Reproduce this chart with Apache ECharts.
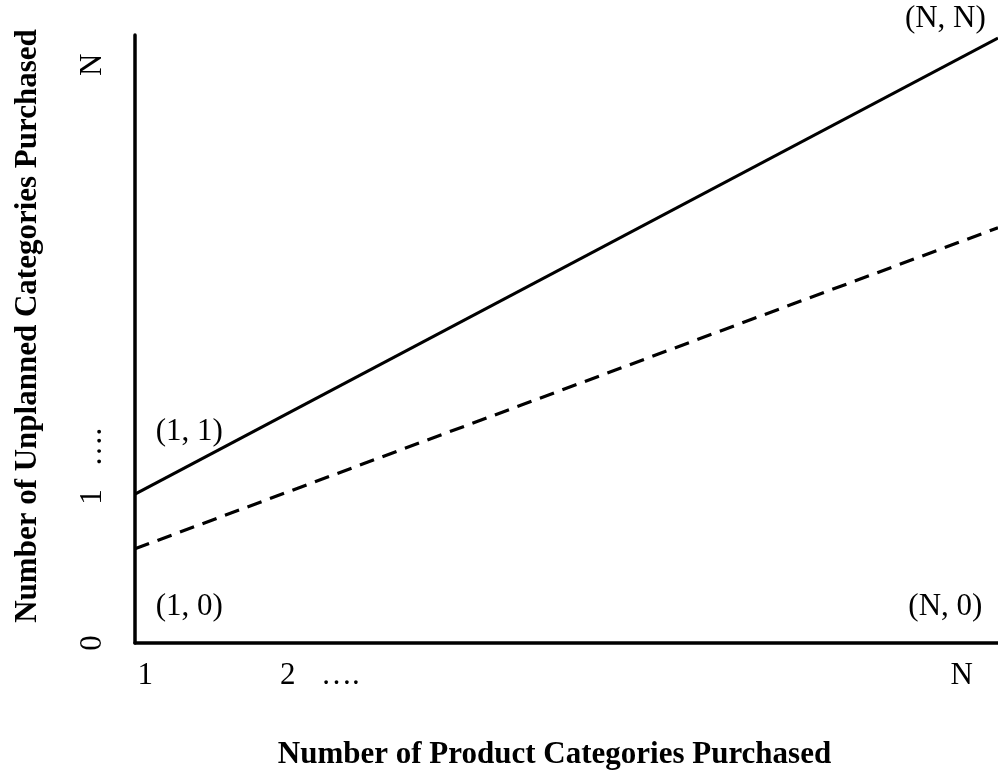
<!DOCTYPE html>
<html>
<head>
<meta charset="utf-8">
<script src="https://cdn.jsdelivr.net/npm/echarts@6/dist/echarts.min.js"></script>
<style>html,body{margin:0;padding:0;background:#fff}#c{width:998px;height:775px}</style>
</head>
<body>
<div id="c"></div>
<script>
// Schematic: x and y on a 0..100 relative scale
var xTickValues = [1.2, 17.7, 23.8, 95.8];
var xTickLabels = ['1', '2', '\u2026.', 'N'];
var yTickValues = [0, 24.0, 32.2, 95.1];
var yTickLabels = ['0', '1', '\u2026.', 'N'];
var solidLine = [[0, 24.5], [100, 99.5]];
var dashedLine = [[0, 15.5], [100, 68.3]];
var pointNotes = [[6.3, 34.7, '(1, 1)'], [6.3, 5.9, '(1, 0)'], [93.9, 102.6, '(N, N)'], [93.9, 5.9, '(N, 0)']];
var xTitle = 'Number of Product Categories Purchased';
var yTitle = 'Number of Unplanned Categories Purchased';

var FONT = 'Liberation Serif';
function lookup(vals, labels) {
  return function (v) {
    for (var i = 0; i < vals.length; i++) if (Math.abs(vals[i] - v) < 1e-6) return labels[i];
    return '';
  };
}
var chart = echarts.init(document.getElementById('c'));
chart.setOption({
  animation: false,
  backgroundColor: '#fff',
  grid: { left: 135, right: 0, top: 35, bottom: 132 },
  xAxis: {
    type: 'value', min: 0, max: 100,
    name: xTitle, nameLocation: 'middle', nameGap: 96,
    nameTextStyle: { fontFamily: FONT, fontWeight: 'bold', fontSize: 31, color: '#000', padding: [0, 24, 0, 0] },
    axisLine: { show: true, lineStyle: { color: '#000', width: 3.5 } },
    axisTick: { show: false },
    splitLine: { show: false },
    axisLabel: {
      customValues: xTickValues, formatter: lookup(xTickValues, xTickLabels),
      fontFamily: FONT, fontSize: 31, color: '#000', margin: 17
    }
  },
  yAxis: {
    type: 'value', min: 0, max: 100,
    name: yTitle, nameLocation: 'middle', nameGap: 92, nameRotate: 90,
    nameTextStyle: { fontFamily: FONT, fontWeight: 'bold', fontSize: 31, color: '#000', padding: [0, 0, 0, 26] },
    axisLine: { show: true, lineStyle: { color: '#000', width: 3.5 } },
    axisTick: { show: false },
    splitLine: { show: false },
    axisLabel: {
      customValues: yTickValues, formatter: lookup(yTickValues, yTickLabels),
      fontFamily: FONT, fontSize: 31, color: '#000', margin: 27, rotate: 90
    }
  },
  series: [
    { type: 'line', data: solidLine, symbol: 'none', lineStyle: { color: '#000', width: 3.2 } },
    { type: 'line', data: dashedLine, symbol: 'none', lineStyle: { color: '#000', width: 3.2, type: [15, 9] } },
    {
      type: 'scatter', clip: false, symbolSize: 0,
      itemStyle: { opacity: 1, color: '#000' },
      data: pointNotes.map(function (p) { return { value: [p[0], p[1]], name: p[2] }; }),
      label: { show: true, position: 'inside', formatter: '{b}', fontFamily: FONT, fontSize: 31, color: '#000', opacity: 1 }
    }
  ]
});
</script>
</body>
</html>
